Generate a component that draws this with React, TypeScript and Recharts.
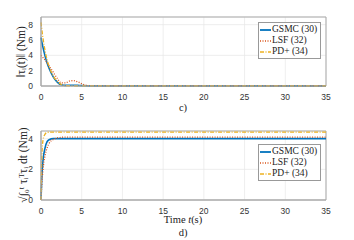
import React from 'react';
import { LineChart, Line, XAxis, YAxis, CartesianGrid, ReferenceArea } from 'recharts';

const timeTop = [0, 0.25, 0.5, 0.75, 1, 1.5, 2, 2.5, 3, 3.5, 4, 4.5, 5, 5.5, 6, 8, 10, 35];
const gsmcTop = [6.3, 5.0, 3.9, 3.0, 2.3, 1.2, 0.5, 0.15, 0.08, 0.1, 0.1, 0.08, 0.05, 0.03, 0.02, 0.01, 0.01, 0.01];
const lsfTop = [4.0, 3.7, 3.4, 3.0, 2.6, 1.8, 1.0, 0.4, 0.4, 0.65, 0.7, 0.55, 0.3, 0.1, 0.05, 0.02, 0.01, 0.01];
const pdTop = [8.3, 6.2, 4.6, 3.4, 2.5, 1.3, 0.6, 0.2, 0.05, 0.03, 0.02, 0.02, 0.01, 0.01, 0.01, 0.01, 0.01, 0.01];

const timeBot = [0, 0.1, 0.25, 0.5, 0.75, 1, 1.5, 2, 3, 4, 35];
const gsmcBot = [0, 1.5, 2.6, 3.4, 3.8, 3.93, 4.0, 4.0, 4.0, 4.0, 4.0];
const lsfBot = [0, 1.0, 2.0, 2.9, 3.4, 3.7, 3.95, 4.05, 4.1, 4.1, 4.1];
const pdBot = [0, 2.8, 3.9, 4.3, 4.4, 4.42, 4.43, 4.43, 4.43, 4.43, 4.43];

const xTicks = [0, 5, 10, 15, 20, 25, 30, 35];
const topYTicks = [0, 2, 4, 6, 8];
const botYTicks = [0, 2, 4];
const seriesNames = ['GSMC (30)', 'LSF (32)', 'PD+ (34)'];

const topData = timeTop.map((t, i) => ({ t, gsmc: gsmcTop[i], lsf: lsfTop[i], pd: pdTop[i] }));
const botData = timeBot.map((t, i) => ({ t, gsmc: gsmcBot[i], lsf: lsfBot[i], pd: pdBot[i] }));

const BLUE = '#0072BD';
const RED = '#D95319';
const YELLOW = '#EDB120';
const SERIF = '"Liberation Serif", "DejaVu Serif", serif';
const SANS = '"Liberation Sans", Arial, sans-serif';

const styles = [
  { color: BLUE, dash: undefined as string | undefined, width: 1.6 },
  { color: RED, dash: '1 1.5', width: 1.3 },
  { color: YELLOW, dash: '4 1.5 1 1.5', width: 1.3 },
];

const LegendBox = ({ left, top }: { left: number; top: number }) => (
  <div style={{ position: 'absolute', left, top, width: 60, height: 34, border: '1px solid #999', background: '#fff', padding: '1px 0 0 1px', fontFamily: SERIF, fontSize: 9.5, lineHeight: '11px', color: '#222' }}>
    {seriesNames.map((n, i) => (
      <div key={n} style={{ display: 'flex', alignItems: 'center', whiteSpace: 'nowrap' }}>
        <svg width={11} height={6} style={{ marginRight: 1, flex: 'none' }}>
          <line x1={0} y1={3} x2={11} y2={3} stroke={styles[i].color} strokeWidth={styles[i].width + 0.2} strokeDasharray={styles[i].dash} />
        </svg>
        <span>{n}</span>
      </div>
    ))}
  </div>
);

const tickStyle = { fontSize: 8.5, fontFamily: SANS, fill: '#333' };

function Lines() {
  return [
    <Line key="g" type="monotone" dataKey="gsmc" stroke={BLUE} strokeWidth={styles[0].width} dot={false} isAnimationActive={false} />,
    <Line key="l" type="monotone" dataKey="lsf" stroke={RED} strokeWidth={styles[1].width} strokeDasharray={styles[1].dash} dot={false} isAnimationActive={false} />,
    <Line key="p" type="monotone" dataKey="pd" stroke={YELLOW} strokeWidth={styles[2].width} strokeDasharray={styles[2].dash} dot={false} isAnimationActive={false} />,
  ];
}

export default function App() {
  return (
    <div style={{ position: 'absolute', left: 0, top: 0, width: 354, height: 240, background: '#fff' }}>
      <div style={{ position: 'absolute', left: 0, top: 0 }}>
        <LineChart width={354} height={120} data={topData} margin={{ top: 17, right: 28, bottom: 14, left: 11 }}>
          <CartesianGrid stroke="#e6e6e6" strokeWidth={0.7} />
          <XAxis dataKey="t" type="number" domain={[0, 35]} ticks={xTicks} tick={tickStyle} tickLine={false} axisLine={{ stroke: '#aaa' }} height={20} interval={0}
            label={({ viewBox }: any) => (
              <text x={183} y={viewBox.y + 25} textAnchor="middle" fontFamily={SERIF} fontSize={10.5} fill="#222">c)</text>
            )} />
          <YAxis type="number" domain={[0, 9]} ticks={topYTicks} tick={tickStyle} tickLine={false} axisLine={{ stroke: '#aaa' }} width={30}
            label={() => (
              <text x={22} y={52} transform="rotate(-90 22 52)" textAnchor="middle" dominantBaseline="middle" fontFamily={SERIF} fontSize={11.5} fill="#222">‖τᵢ(t)‖ (Nm)</text>
            )} />
          <ReferenceArea x1={0} x2={35} y1={0} y2={9} fill="none" stroke="#aaa" strokeWidth={1} ifOverflow="visible" />
          {Lines()}
        </LineChart>
        <LegendBox left={258} top={22} />
      </div>
      <div style={{ position: 'absolute', left: 0, top: 120 }}>
        <LineChart width={354} height={120} data={botData} margin={{ top: 11, right: 28, bottom: 20, left: 11 }}>
          <CartesianGrid stroke="#e6e6e6" strokeWidth={0.7} />
          <XAxis dataKey="t" type="number" domain={[0, 35]} ticks={xTicks} tick={tickStyle} tickLine={false} axisLine={{ stroke: '#aaa' }} height={20} interval={0}
            label={({ viewBox }: any) => (
              <g>
                <text x={183} y={viewBox.y + 23} textAnchor="middle" fontFamily={SERIF} fontSize={10.5} fill="#222">Time <tspan fontStyle="italic">t</tspan>(s)</text>
                <text x={183} y={viewBox.y + 36} textAnchor="middle" fontFamily={SERIF} fontSize={10.5} fill="#222">d)</text>
              </g>
            )} />
          <YAxis type="number" domain={[0, 4.5]} ticks={botYTicks} tick={tickStyle} tickLine={false} axisLine={{ stroke: '#aaa' }} width={30}
            label={() => (
              <text x={24} y={45} transform="rotate(-90 24 45)" textAnchor="middle" dominantBaseline="middle" fontFamily={SERIF} fontSize={11.5} fill="#222">√∫₀ᵗ τᵢᵀτᵢ dt (Nm)</text>
            )} />
          <ReferenceArea x1={0} x2={35} y1={0} y2={4.5} fill="none" stroke="#aaa" strokeWidth={1} ifOverflow="visible" />
          {Lines()}
        </LineChart>
        <LegendBox left={258} top={24} />
      </div>
    </div>
  );
}
